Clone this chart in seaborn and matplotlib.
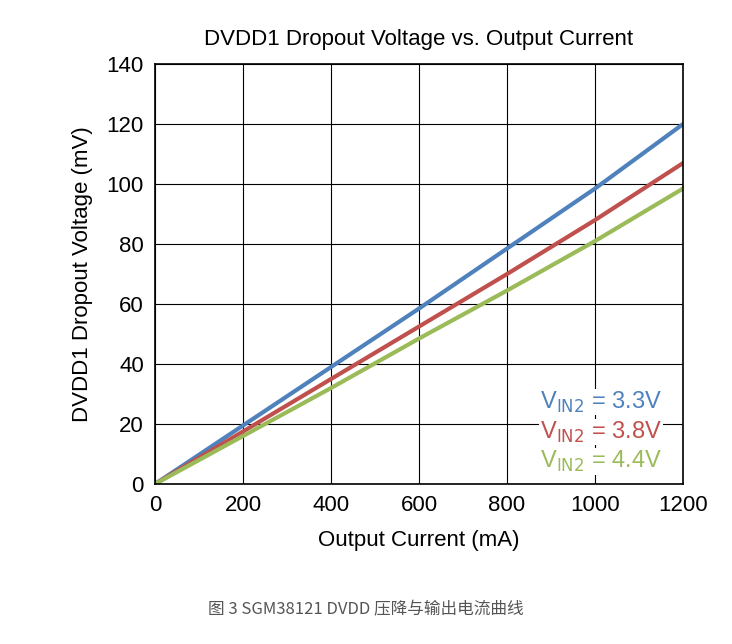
import pandas as pd
import seaborn as sns
import matplotlib.pyplot as plt

current = [0, 200, 400, 600, 800, 1000, 1200]
v33 = [0, 19.5, 39, 58.5, 78.5, 98.5, 120]
v38 = [0, 17.5, 35, 52.5, 70, 88, 107]
v44 = [0, 16, 32, 48.5, 64.5, 81, 98.5]
labels = ["3.3V", "3.8V", "4.4V"]
colors = ["#4f81bd", "#c0504d", "#9bbb59"]

rows = []
for lab, vals in zip(labels, [v33, v38, v44]):
    for c, v in zip(current, vals):
        rows.append({"current": c, "dropout": v, "vin": lab})
df = pd.DataFrame(rows)

plt.rcParams["font.family"] = "Liberation Sans"
fig = plt.figure(figsize=(7.32, 6.44), dpi=100)
ax = fig.add_axes([0.2117, 0.2484, 0.7213, 0.652])
sns.lineplot(data=df, x="current", y="dropout", hue="vin", palette=colors,
             linewidth=3, legend=False, ax=ax)
ax.set_xlim(0, 1200)
ax.set_ylim(0, 140)
ax.set_xticks(range(0, 1201, 200))
ax.set_yticks(range(0, 141, 20))
ax.grid(True, color="black", linewidth=0.8)
for s in ax.spines.values():
    s.set_color("black")
    s.set_linewidth(1.2)
ax.tick_params(labelsize=16, length=0, pad=8)
ax.set_xlabel("Output Current (mA)", fontsize=16, labelpad=10)
ax.set_ylabel("DVDD1 Dropout Voltage (mV)", fontsize=16, labelpad=10)
ax.set_title("DVDD1 Dropout Voltage vs. Output Current", fontsize=16, pad=14)

for i, (lab, col) in enumerate(zip(labels, colors)):
    ax.text(0.96, 0.195 - i * 0.071, f"V$_{{\\mathrm{{IN2}}}}$ = {lab}", color=col,
            fontsize=17, ha="right", va="center", transform=ax.transAxes,
            bbox=dict(facecolor="white", edgecolor="none", pad=0.5))

fig.text(0.5, 0.053, "图 3 SGM38121 DVDD 压降与输出电流曲线", ha="center",
         va="center", fontsize=12, color="#555555",
         family=["Noto Sans CJK SC", "Noto Sans CJK JP", "Noto Sans CJK TC", "DejaVu Sans"])
fig.savefig("out.png", dpi=100)
